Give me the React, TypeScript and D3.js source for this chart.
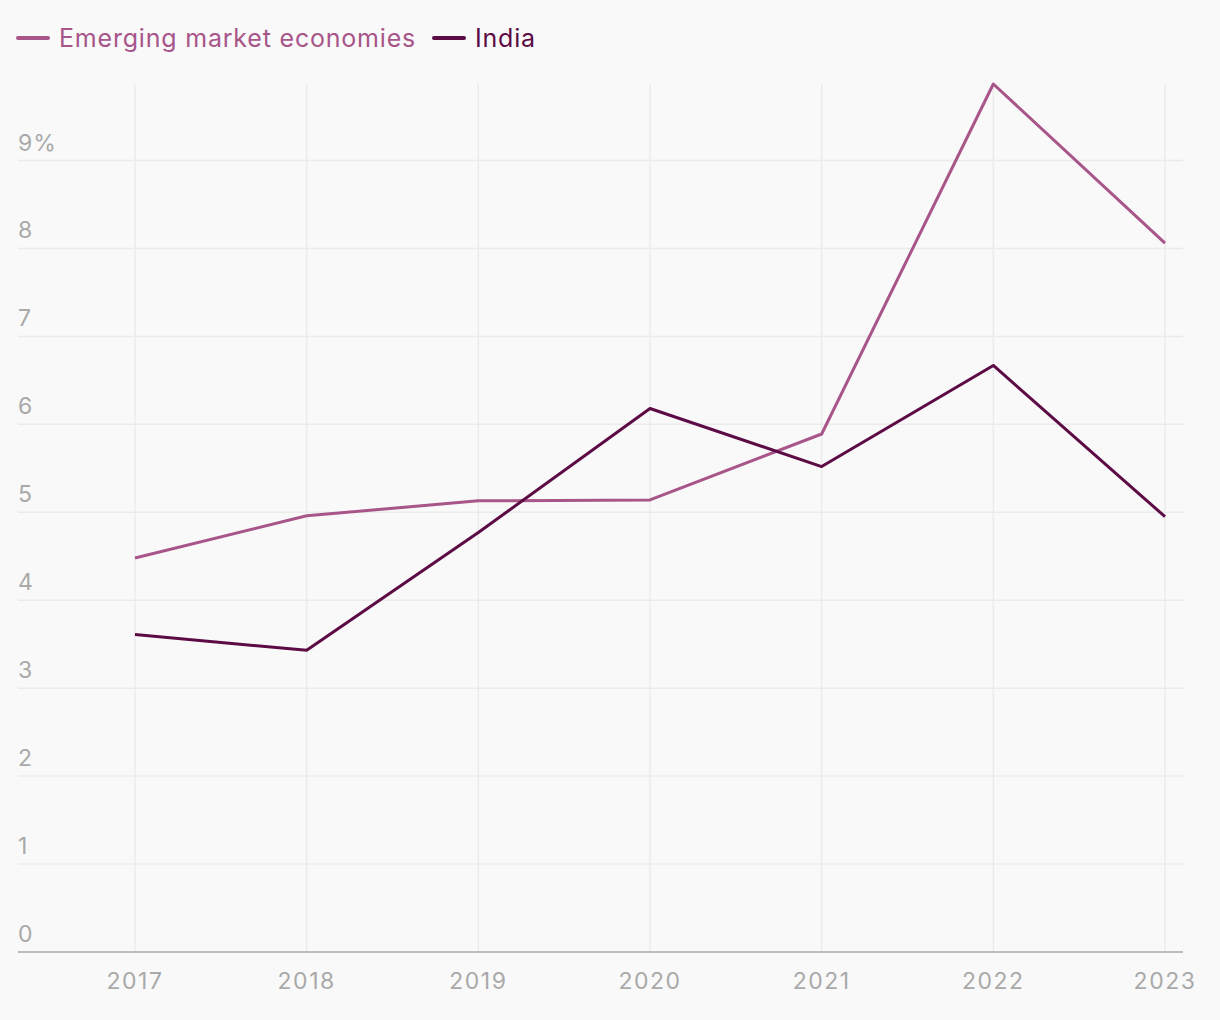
import { useEffect } from "react";
import * as d3 from "d3";

const years = [2017, 2018, 2019, 2020, 2021, 2022, 2023];
const emergingValues = [4.48, 4.96, 5.13, 5.14, 5.89, 9.87, 8.06];
const indiaValues = [3.61, 3.43, 4.77, 6.18, 5.52, 6.67, 4.95];
const yTickValues = [0, 1, 2, 3, 4, 5, 6, 7, 8, 9];

const series = [
  { name: "Emerging market economies", values: emergingValues, color: "#a8558a" },
  { name: "India", values: indiaValues, color: "#5c0b45" },
];
const legendOffsets = [18, 434];

const width = 1220;
const height = 1020;
const margin = { top: 84, right: 37, bottom: 68, left: 18 };
const font = "Inter, 'Noto Sans', sans-serif";

export default function App() {
  useEffect(() => {
    document.body.style.margin = "0";
    document.body.style.background = "#f9f9f9";
  }, []);

  const xScale = d3
    .scalePoint<number>()
    .domain(years)
    .range([135, 1165]);

  const yScale = d3
    .scaleLinear()
    .domain([0, d3.max(emergingValues) ?? 0])
    .range([height - margin.bottom, margin.top]);

  const line = d3
    .line<number>()
    .x((_, i) => xScale(years[i]) ?? 0)
    .y((d) => yScale(d));

  const baseY = yScale(0);

  return (
    <svg width={width} height={height} style={{ display: "block", background: "#f9f9f9" }}>
      {/* vertical grid */}
      {years.map((y) => (
        <line
          key={y}
          x1={xScale(y)}
          x2={xScale(y)}
          y1={margin.top}
          y2={baseY}
          stroke="#ebebeb"
          strokeWidth={1.5}
        />
      ))}
      {/* horizontal grid + labels */}
      {yTickValues.map((t) => (
        <g key={t}>
          {t > 0 && (
            <line
              x1={margin.left}
              x2={width - margin.right}
              y1={yScale(t)}
              y2={yScale(t)}
              stroke="#ebebeb"
              strokeWidth={1.5}
            />
          )}
          <text
            x={margin.left}
            y={yScale(t) - 10}
            fill="#a9a9a9"
            style={{ fontFamily: font, fontSize: "23px", letterSpacing: "1px" }}
          >
            {t === 9 ? "9%" : t}
          </text>
        </g>
      ))}
      {/* baseline */}
      <line
        x1={margin.left}
        x2={width - margin.right}
        y1={baseY}
        y2={baseY}
        stroke="#a9a9a9"
        strokeWidth={1.5}
      />
      {years.map((y) => (
        <text
          key={y}
          x={xScale(y)}
          y={baseY + 37}
          textAnchor="middle"
          fill="#a9a9a9"
          style={{ fontFamily: font, fontSize: "23px", letterSpacing: "1.5px" }}
        >
          {y}
        </text>
      ))}

      {/* lines */}
      {series.map((s) => (
        <path
          key={s.name}
          d={line(s.values) ?? ""}
          fill="none"
          stroke={s.color}
          strokeWidth={3}
          strokeLinejoin="round"
        />
      ))}

      {/* legend */}
      {series.map((s, i) => (
        <g key={s.name} transform={`translate(${legendOffsets[i]},38)`}>
          <line x1={0} x2={30} y1={0} y2={0} stroke={s.color} strokeWidth={4} strokeLinecap="round" />
          <text
            x={41}
            y={9}
            fill={s.color}
            style={{ fontFamily: font, fontSize: "25px", letterSpacing: "0.8px" }}
          >
            {s.name}
          </text>
        </g>
      ))}
    </svg>
  );
}
